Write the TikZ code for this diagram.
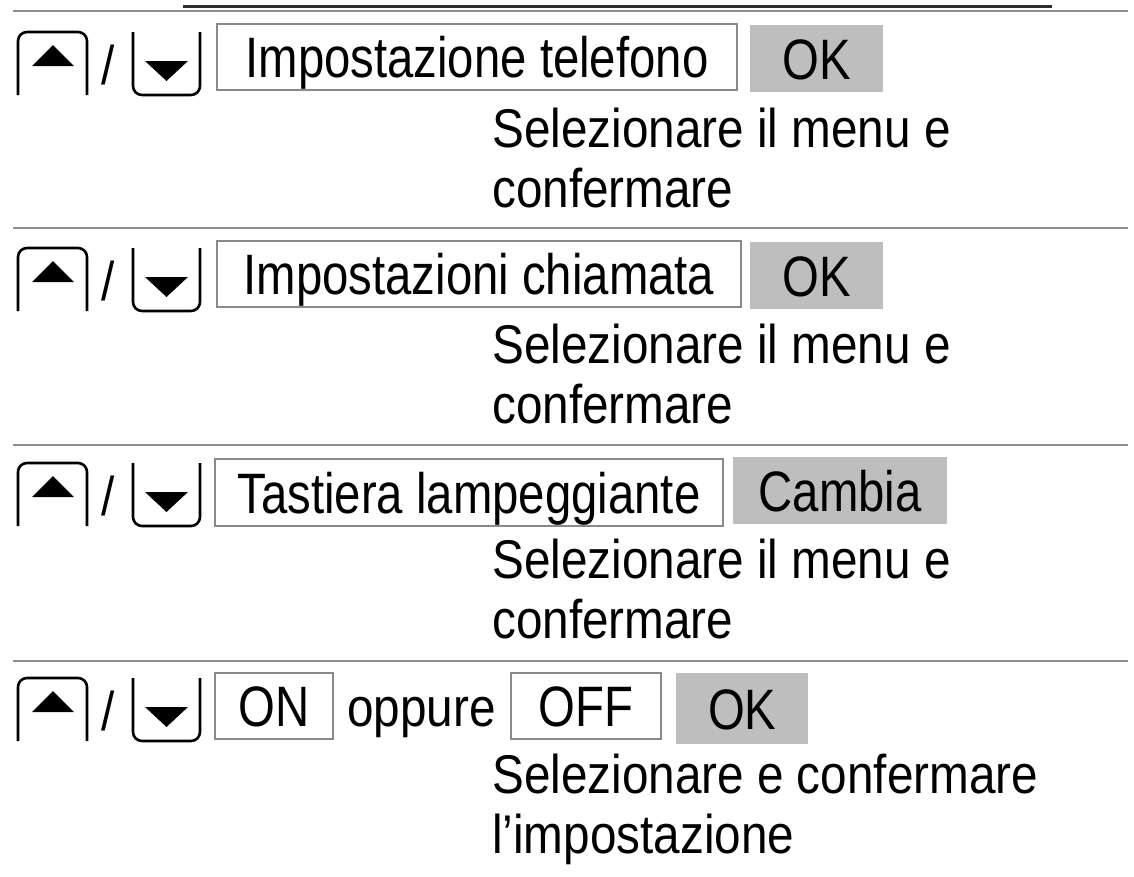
\documentclass[tikz,border=0pt]{standalone}
\usepackage{fontspec}
\setmainfont{Liberation Sans}[FakeStretch=0.875]
\newfontfamily\btnfont{Liberation Sans}[FakeStretch=0.83]
\definecolor{sepgray}{HTML}{8E8E8E}
\definecolor{boxgray}{HTML}{8A8A8A}
\definecolor{btngray}{HTML}{BEBEBE}
\definecolor{topdark}{HTML}{2E2E2E}
\tikzset{
  sepline/.style={draw=sepgray,line width=2pt},
  keyline/.style={line width=2.6pt,rounded corners=9pt,line join=round},
  field/.style={draw=boxgray,line width=2pt,fill=white,inner sep=0pt,anchor=north west,
    font=\btnfont\fontsize{57}{60}\selectfont,text height=41pt,text depth=0pt},
  btn/.style={fill=btngray,inner sep=0pt,anchor=north west,
    font=\btnfont\fontsize{57}{60}\selectfont,text height=41pt,text depth=0pt},
  desc/.style={anchor=base west,inner sep=0pt,font=\fontsize{54.5}{60}\selectfont},
  slashtxt/.style={anchor=base west,inner sep=0pt,font=\fontsize{54.5}{60}\selectfont},
  upkey/.pic={
    \draw[keyline] (0,63) -- (0,0) -- (69,0) -- (69,63);
    \fill (14,34) -- (35,13) -- (56,34) -- cycle;
  },
  downkey/.pic={
    \draw[keyline] (0,0) -- (0,63) -- (67,63) -- (67,0);
    \fill (12,29) -- (55,29) -- (33.5,49) -- cycle;
  }
}
\begin{document}
\begin{tikzpicture}[x=1pt,y=-1pt]
\useasboundingbox (0,0) rectangle (1134,876);

% top rules
\draw[topdark,line width=3pt] (183,6) -- (1052,6);
\draw[sepline] (13,11) -- (1128,11);

% separators
\draw[sepline] (13,228) -- (1128,228);
\draw[sepline] (13,445) -- (1128,445);
\draw[sepline] (13,661) -- (1128,661);

% keys for each row
\foreach \dy/\n in {0/1,216/2,431/3,646/4}{
  \pic at (18,32+\dy) {upkey};
  \node[slashtxt] (s\n) at (101,84+\dy) {/};
  \pic at (133,32+\dy) {downkey};
}

% row 1
\node[field,minimum width=520pt,minimum height=66pt] (f1) at (216,23) {Impostazione telefono};
\node[btn,minimum width=133pt,minimum height=67pt] (b1) at (750,25) {OK};
\node[desc] (d1a) at (492,147) {Selezionare il menu e};
\node[desc] (d1b) at (492,207) {confermare};

% row 2
\node[field,minimum width=524pt,minimum height=66pt] (f2) at (216,240) {Impostazioni chiamata};
\node[btn,minimum width=133pt,minimum height=67pt] (b2) at (750,242) {OK};
\node[desc] (d2a) at (492,363) {Selezionare il menu e};
\node[desc] (d2b) at (492,423) {confermare};

% row 3
\node[field,minimum width=508pt,minimum height=67pt] (f3) at (214,458) {Tastiera lampeggiante};
\node[btn,minimum width=214pt,minimum height=67pt] (b3) at (733,457) {Cambia};
\node[desc] (d3a) at (492,578) {Selezionare il menu e};
\node[desc] (d3b) at (492,638) {confermare};

% row 4
\node[field,minimum width=118pt,minimum height=66pt] (f4a) at (214,672) {ON};
\node[desc] (opp) at (347,726) {oppure};
\node[field,minimum width=150pt,minimum height=66pt] (f4b) at (510,672) {OFF};
\node[btn,minimum width=132pt,minimum height=71pt] (b4) at (676,673) {OK};
\node[desc] (d4a) at (492,793) {Selezionare e confermare};
\node[desc] (d4b) at (492,853) {l’impostazione};
\end{tikzpicture}
\end{document}
